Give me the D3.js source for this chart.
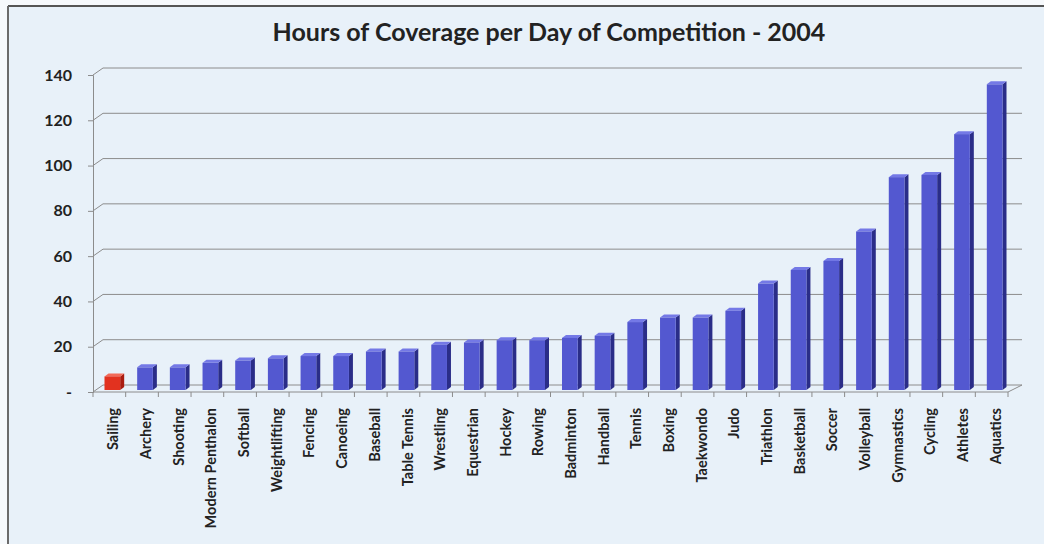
<!DOCTYPE html>
<html>
<head>
<meta charset="utf-8">
<title>Hours of Coverage per Day of Competition - 2004</title>
<script src="https://cdn.jsdelivr.net/npm/d3@7"></script>
<style>
  html, body { margin: 0; padding: 0; background: #f6f9fc; }
  svg { display: block; font-family: Lato, "Open Sans", sans-serif; }
</style>
</head>
<body>
<script>
// data
var sports = ["Sailing", "Archery", "Shooting", "Modern Penthalon", "Softball", "Weightlifting",
  "Fencing", "Canoeing", "Baseball", "Table Tennis", "Wrestling", "Equestrian", "Hockey",
  "Rowing", "Badminton", "Handball", "Tennis", "Boxing", "Taekwondo", "Judo", "Triathlon",
  "Basketball", "Soccer", "Volleyball", "Gymnastics", "Cycling", "Athletes", "Aquatics"];
var hours = [6, 10, 10, 12, 13, 14, 15, 15, 17, 17, 20, 21, 22, 22, 23, 24, 30, 32, 32, 35,
  47, 53, 57, 70, 94, 95, 113, 135];
var yTicks = [0, 20, 40, 60, 80, 100, 120, 140];
var highlight = "Sailing";

var width = 1044, height = 544;
var plotLeft = 93, plotRight = 1008, plotBottom = 392, plotTop = 75;
var wallDx = 10, wallDy = -7;     // back wall offset
var barDx = 3, barDy = -2;        // bar front plane offset
var depthX = 4, depthY = -3;      // bar depth

var svg = d3.select("body").append("svg")
  .attr("width", width).attr("height", height);

// panel
svg.append("rect").attr("x", 8).attr("y", 6).attr("width", width - 8).attr("height", height - 6)
  .attr("fill", "#e8f1f9");
svg.append("line").attr("x1", 8).attr("y1", 6).attr("x2", width).attr("y2", 6)
  .attr("stroke", "#555").attr("stroke-width", 2);
svg.append("line").attr("x1", 8).attr("y1", 6).attr("x2", 8).attr("y2", height)
  .attr("stroke", "#6b6b6b").attr("stroke-width", 2);

svg.append("text").attr("x", 549).attr("y", 41).attr("text-anchor", "middle")
  .attr("font-size", 25).attr("font-weight", "bold").attr("fill", "#222")
  .text("Hours of Coverage per Day of Competition - 2004");

var x = d3.scaleBand().domain(sports).range([plotLeft, plotRight]).paddingInner(0.52).paddingOuter(0.26);
var xOuter = d3.scaleBand().domain(sports).range([plotLeft, plotRight]);
var y = d3.scaleLinear().domain([0, 140]).range([plotBottom, plotTop]);

// gridlines on the back wall with diagonal joins
var grid = svg.append("g").attr("stroke", "#8c8c8c").attr("stroke-width", 1).attr("fill", "none");
grid.selectAll("path").data(yTicks).enter().append("path")
  .attr("d", function(d) {
    var yy = y(d);
    return "M" + plotLeft + "," + yy + "L" + (plotLeft + wallDx) + "," + (yy + wallDy) +
      "L" + (plotRight + 14) + "," + (yy + wallDy);
  });
// floor right edge
grid.append("path").attr("d", "M" + plotLeft + "," + plotBottom + "L" + plotRight + "," + plotBottom +
  "L" + (plotRight + 14) + "," + (plotBottom + wallDy));

// y axis
var yAxis = svg.append("g").attr("transform", "translate(" + plotLeft + ",0)")
  .call(d3.axisLeft(y).tickValues(yTicks).tickSize(5).tickPadding(16)
    .tickFormat(function(d) { return d === 0 ? "-" : d; }));
yAxis.select(".domain").attr("stroke", "#8c8c8c");
yAxis.selectAll(".tick line").attr("stroke", "#8c8c8c");
yAxis.selectAll("text").attr("font-size", 16).attr("font-weight", "bold").attr("fill", "#222")
  .attr("font-family", "Lato, sans-serif");

// x axis ticks at category boundaries
var xt = svg.append("g").attr("stroke", "#8c8c8c");
xt.selectAll("line").data(sports.concat(["_end"])).enter().append("line")
  .attr("x1", function(d, i) { return plotLeft + i * xOuter.step(); })
  .attr("x2", function(d, i) { return plotLeft + i * xOuter.step(); })
  .attr("y1", plotBottom).attr("y2", plotBottom + 5);

// bars
var bars = svg.append("g").selectAll("g").data(sports).enter().append("g");
function col(d, part) {
  var red = d === highlight;
  if (part === "front") return red ? "#e2321f" : "#5358d0";
  if (part === "top") return red ? "#f26a58" : "#7479e6";
  return red ? "#a91c10" : "#2a2d88";
}
bars.append("path").attr("fill", function(d) { return col(d, "side"); })
  .attr("d", function(d, i) {
    var x1 = x(d) + barDx + x.bandwidth(), y0 = plotBottom + barDy, y1 = y(hours[i]) + barDy;
    return "M" + x1 + "," + y0 + "L" + (x1 + depthX) + "," + (y0 + depthY) +
      "L" + (x1 + depthX) + "," + (y1 + depthY) + "L" + x1 + "," + y1 + "Z";
  });
bars.append("path").attr("fill", function(d) { return col(d, "top"); })
  .attr("d", function(d, i) {
    var x0 = x(d) + barDx, x1 = x0 + x.bandwidth(), y1 = y(hours[i]) + barDy;
    return "M" + x0 + "," + y1 + "L" + (x0 + depthX) + "," + (y1 + depthY) +
      "L" + (x1 + depthX) + "," + (y1 + depthY) + "L" + x1 + "," + y1 + "Z";
  });
bars.append("rect").attr("fill", function(d) { return col(d, "front"); })
  .attr("x", function(d) { return x(d) + barDx; })
  .attr("y", function(d, i) { return y(hours[i]) + barDy; })
  .attr("width", x.bandwidth())
  .attr("height", function(d, i) { return plotBottom - y(hours[i]); });

// category labels
svg.append("g").selectAll("text").data(sports).enter().append("text")
  .attr("transform", function(d) {
    return "translate(" + (x(d) + x.bandwidth() / 2 + 4) + "," + (plotBottom + 16) + ") rotate(-90)";
  })
  .attr("text-anchor", "end").attr("dy", "0.35em")
  .attr("font-size", 14.5).attr("font-weight", "bold").attr("fill", "#222")
  .text(function(d) { return d; });
</script>
</body>
</html>
